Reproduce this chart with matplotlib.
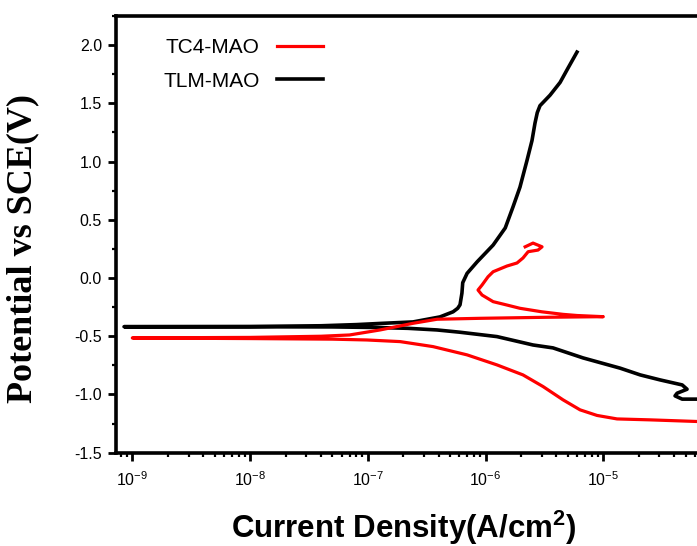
import matplotlib
matplotlib.use("Agg")
import matplotlib.pyplot as plt
from matplotlib.ticker import FixedLocator, MultipleLocator, NullFormatter, FormatStrFormatter, LogFormatterMathtext

# Potentiodynamic polarization data: current density (A/cm^2) and potential (V vs SCE),
# listed in scan order (cathodic branch -> corrosion potential -> anodic branch)
tlm_current = [1.1e-4, 8.0e-5, 6.26e-5, 4.68e-5, 4.07e-5, 4.24e-5, 5.15e-5, 4.68e-5,
               3.04e-5, 2.06e-5, 1.39e-5, 6.73e-6, 3.74e-6, 2.53e-6, 1.25e-6, 6.0e-7,
               3.87e-7, 2.2e-7, 1.2e-7, 5e-8, 1e-8, 8.5e-10,
               1e-9, 1e-8, 4e-8, 8e-8, 1.27e-7, 2.42e-7, 4.1e-7, 5.3e-7, 5.8e-7, 6.07e-7,
               6.3e-7, 6.4e-7, 6.97e-7, 8.5e-7, 1.16e-6, 1.47e-6, 1.71e-6, 1.96e-6,
               2.25e-6, 2.48e-6, 2.63e-6, 2.75e-6, 2.9e-6, 3.53e-6, 4.3e-6, 5.0e-6, 5.98e-6]
tlm_potential = [-1.046, -1.043, -1.040, -1.040, -1.012, -0.989, -0.955, -0.918,
                 -0.875, -0.832, -0.774, -0.686, -0.600, -0.575, -0.503, -0.465,
                 -0.446, -0.432, -0.425, -0.420, -0.419, -0.418,
                 -0.418, -0.416, -0.410, -0.400, -0.390, -0.377, -0.334, -0.290, -0.260, -0.230,
                 -0.130, -0.040, 0.040, 0.140, 0.283, 0.430, 0.610, 0.780,
                 1.010, 1.180, 1.330, 1.420, 1.480, 1.570, 1.680, 1.800, 1.940]

tc4_current = [1.1e-4, 6.26e-5, 2.5e-5, 1.31e-5, 8.85e-6, 6.35e-6, 4.55e-6, 3.08e-6,
               2.08e-6, 1.25e-6, 6.97e-7, 3.58e-7, 1.88e-7, 9.8e-8, 5e-8, 1e-8, 1e-9,
               1e-9, 1e-8, 4e-8, 7e-8, 1.27e-7, 2.42e-7, 3.87e-7, 8.98e-7, 3.33e-6, 1.0e-5,
               6e-6, 4.55e-6, 3.0e-6, 1.96e-6, 1.52e-6, 1.16e-6, 9.34e-7, 8.63e-7,
               9.34e-7, 1.05e-6, 1.16e-6, 1.52e-6, 1.85e-6, 2.08e-6, 2.30e-6, 2.79e-6,
               3.02e-6, 2.53e-6, 2.17e-6]
tc4_potential = [-1.235, -1.232, -1.218, -1.210, -1.180, -1.132, -1.046, -0.932,
                 -0.832, -0.746, -0.660, -0.589, -0.546, -0.532, -0.525, -0.520, -0.515,
                 -0.514, -0.510, -0.500, -0.489, -0.446, -0.389, -0.354, -0.346, -0.337, -0.332,
                 -0.322, -0.312, -0.290, -0.260, -0.232, -0.203, -0.146, -0.103,
                 -0.060, 0.011, 0.054, 0.103, 0.129, 0.172, 0.226, 0.240,
                 0.268, 0.300, 0.268]

series_labels = ["TC4-MAO", "TLM-MAO"]
x_ticks = [1e-9, 1e-8, 1e-7, 1e-6, 1e-5]
y_ticks = [-1.5, -1.0, -0.5, 0.0, 0.5, 1.0, 1.5, 2.0]

plt.rcParams['font.family'] = ['Liberation Sans', 'DejaVu Sans']
plt.rcParams['mathtext.fontset'] = 'custom'
plt.rcParams['mathtext.rm'] = 'Liberation Sans'
plt.rcParams['mathtext.it'] = 'Liberation Sans:italic'
plt.rcParams['mathtext.bf'] = 'Liberation Sans:bold'

fig = plt.figure(figsize=(6.97, 5.46), dpi=100)
ax = fig.add_axes([116 / 697, 1 - 452.7 / 546, 605 / 697, (452.7 - 16) / 546])

line_tlm, = ax.plot(tlm_current, tlm_potential, color="black", lw=2.6,
                    solid_joinstyle="round", label=series_labels[1])
line_tc4, = ax.plot(tc4_current, tc4_potential, color="#ff0000", lw=2.3,
                    solid_joinstyle="round", label=series_labels[0])

ax.set_xscale("log")
ax.set_xlim(10 ** -9.139, 1e-4)
ax.set_ylim(-1.5, 2.25)

# minor ticks for every decade up to the right edge
minor_x = [m * 10.0 ** e for e in range(-10, -4) for m in range(2, 10)]
minor_x = [v for v in minor_x if 10 ** -9.139 < v < 1e-4]
ax.xaxis.set_major_locator(FixedLocator(x_ticks))
ax.xaxis.set_major_formatter(LogFormatterMathtext())
ax.xaxis.set_minor_locator(FixedLocator(minor_x))
ax.xaxis.set_minor_formatter(NullFormatter())
ax.yaxis.set_major_locator(FixedLocator(y_ticks))
ax.yaxis.set_minor_locator(MultipleLocator(0.25))
ax.yaxis.set_major_formatter(FormatStrFormatter("%.1f"))

for side in ("left", "bottom", "top"):
    ax.spines[side].set_linewidth(2.6)
ax.spines["right"].set_visible(False)

ax.tick_params(which="major", direction="out", length=6, width=2, labelsize=11.5, pad=4)
ax.tick_params(which="minor", direction="out", length=3, width=1.6)
ax.tick_params(axis="x", which="major", pad=7)

fig.text(404 / 697, 1 - 538 / 546, r"Current Density(A/cm$^{\mathbf{2}}$)",
         ha="center", va="baseline", fontsize=22.5, fontweight="bold")
fig.text(23 / 697, 1 - 249 / 546, "Potential vs SCE(V)", rotation=90,
         ha="center", va="center", fontsize=26, fontweight="bold",
         family=["Liberation Serif", "DejaVu Serif"])

ax.legend(handles=[line_tc4, line_tlm], markerfirst=False, frameon=False,
          fontsize=15, handlelength=2.2, handletextpad=0.85, labelspacing=0.7,
          borderpad=0, borderaxespad=0, loc="upper left",
          bbox_to_anchor=(163 / 697, 1 - 38 / 546), bbox_transform=fig.transFigure)

fig.savefig("out.png", dpi=100)
